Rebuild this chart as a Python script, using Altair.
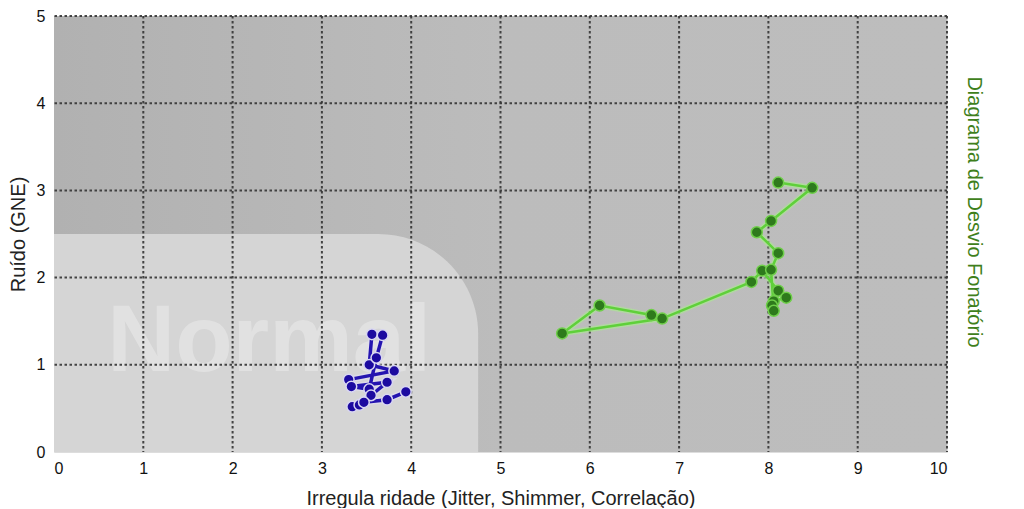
import altair as alt
import pandas as pd

# ---- data ----
blue_x = [3.30, 3.81, 3.53, 3.56, 3.68, 3.61, 3.53, 3.33, 3.73, 3.55, 3.34, 3.42, 3.47, 3.73, 3.94]
blue_y = [0.83, 0.93, 1.00, 1.35, 1.34, 1.08, 0.72, 0.75, 0.80, 0.65, 0.52, 0.54, 0.57, 0.60, 0.69]

green_x = [6.69, 6.11, 5.69, 6.81, 7.81, 7.93, 8.11, 8.20, 8.06, 8.04, 8.06, 8.03, 8.11, 7.87, 8.03, 8.49, 8.11]
green_y = [1.57, 1.68, 1.36, 1.53, 1.95, 2.08, 1.85, 1.77, 1.73, 1.68, 1.62, 2.09, 2.28, 2.52, 2.65, 3.03, 3.09]

x_ticks = [0, 1, 2, 3, 4, 5, 6, 7, 8, 9, 10]
y_ticks = [0, 1, 2, 3, 4, 5]
grid_x = [1, 2, 3, 4, 5, 6, 7, 8, 9, 10]
grid_y = [1, 2, 3, 4, 5]

x_title = "Irregula ridade (Jitter, Shimmer, Correlação)"
y_title = "Ruído (GNE)"
right_title = "Diagrama de Desvio Fonatório"
zone_label = "Normal"

W, H = 893, 436
FONT = "Liberation Sans"

xs = alt.Scale(domain=[0, 10], nice=False, zero=False)
ys = alt.Scale(domain=[0, 5], nice=False, zero=False)

X_AX = alt.Axis(values=x_ticks, format="d", grid=False, domain=False, ticks=False, labelFontSize=16,
                labelColor="#111", labelPadding=8, title=x_title, titleFontSize=20,
                titleFontWeight="normal", titleColor="#222", titlePadding=12, labelFont=FONT, titleFont=FONT)
Y_AX = alt.Axis(values=y_ticks, format="d", grid=False, domain=False, ticks=False, labelFontSize=16,
                labelColor="#111", labelPadding=9, title=y_title, titleFontSize=20,
                titleFontWeight="normal", titleColor="#222", titlePadding=8, labelFont=FONT, titleFont=FONT)

bg_df = pd.DataFrame({"x": [0], "x2": [10], "y": [0], "y2": [5]})
zone_df = pd.DataFrame({"x": [0], "x2": [4.75], "y": [0], "y2": [2.5]})

bg = alt.Chart(bg_df).mark_rect(
    color=alt.Gradient(gradient="linear", x1=0, x2=1, y1=0, y2=0,
                       stops=[alt.GradientStop(color="#b1b1b1", offset=0),
                              alt.GradientStop(color="#bcbcbc", offset=0.5),
                              alt.GradientStop(color="#bdbdbd", offset=1)])
).encode(
    x=alt.X("x:Q", scale=xs, axis=X_AX), x2="x2:Q",
    y=alt.Y("y:Q", scale=ys, axis=Y_AX), y2="y2:Q",
)

zone = alt.Chart(zone_df).mark_rect(color="#d5d5d5", cornerRadiusTopRight=100).encode(
    x=alt.X("x:Q", scale=xs), x2="x2:Q", y=alt.Y("y:Q", scale=ys), y2="y2:Q"
)

label_df = pd.DataFrame({"x": [2.41], "y": [0.93], "t": [zone_label]})
normal_txt = alt.Chart(label_df).mark_text(
    font=FONT, fontWeight="bold", fontSize=94, color="#ffffff", opacity=0.3,
    align="center", baseline="alphabetic"
).encode(x=alt.X("x:Q", scale=xs), y=alt.Y("y:Q", scale=ys), text="t:N")

vgrid = alt.Chart(pd.DataFrame({"g": grid_x})).mark_rule(
    color="#333333", strokeWidth=2, strokeDash=[2.5, 2.5], opacity=0.9
).encode(x=alt.X("g:Q", scale=xs))
hgrid = alt.Chart(pd.DataFrame({"g": grid_y})).mark_rule(
    color="#333333", strokeWidth=2, strokeDash=[2.5, 2.5], opacity=0.9
).encode(y=alt.Y("g:Q", scale=ys))

green_df = pd.DataFrame({"x": green_x, "y": green_y, "o": list(range(len(green_x)))})
blue_df = pd.DataFrame({"x": blue_x, "y": blue_y, "o": list(range(len(blue_x)))})


def series(df, line_color, halo_color, pt_color, pt_halo, lw, size):
    enc = dict(x=alt.X("x:Q", scale=xs), y=alt.Y("y:Q", scale=ys), order="o:Q")
    halo = alt.Chart(df).mark_line(color=halo_color, strokeWidth=lw + 3, opacity=0.6).encode(**enc)
    line = alt.Chart(df).mark_line(color=line_color, strokeWidth=lw).encode(**enc)
    pts = alt.Chart(df).mark_point(filled=True, fill=pt_color, stroke=pt_halo, strokeWidth=1.5,
                                   opacity=1, size=size).encode(
        x=alt.X("x:Q", scale=xs), y=alt.Y("y:Q", scale=ys))
    return halo + line + pts


green = series(green_df, "#5fd03a", "#a8ec8c", "#2e7a1c", "#6fcf4a", 2.5, 120)
blue = series(blue_df, "#2414b0", "#e2e0f4", "#1c0aa0", "#d8d6f2", 3.5, 115)

rt_df = pd.DataFrame({"t": [right_title]})
right_txt = alt.Chart(rt_df).mark_text(
    font=FONT, fontSize=20, color="#3f7f1c", angle=90, align="center", baseline="middle"
).encode(x=alt.value(W + 27), y=alt.value(196), text="t:N")

chart = alt.layer(bg, zone, normal_txt, vgrid, hgrid, green, blue, right_txt).properties(
    width=W, height=H, padding={"left": 0, "top": 0, "right": 5, "bottom": 0}
).configure_view(stroke=None).configure(background="#ffffff")

chart.save("out.html", embed_options={"renderer": "svg", "actions": False})
